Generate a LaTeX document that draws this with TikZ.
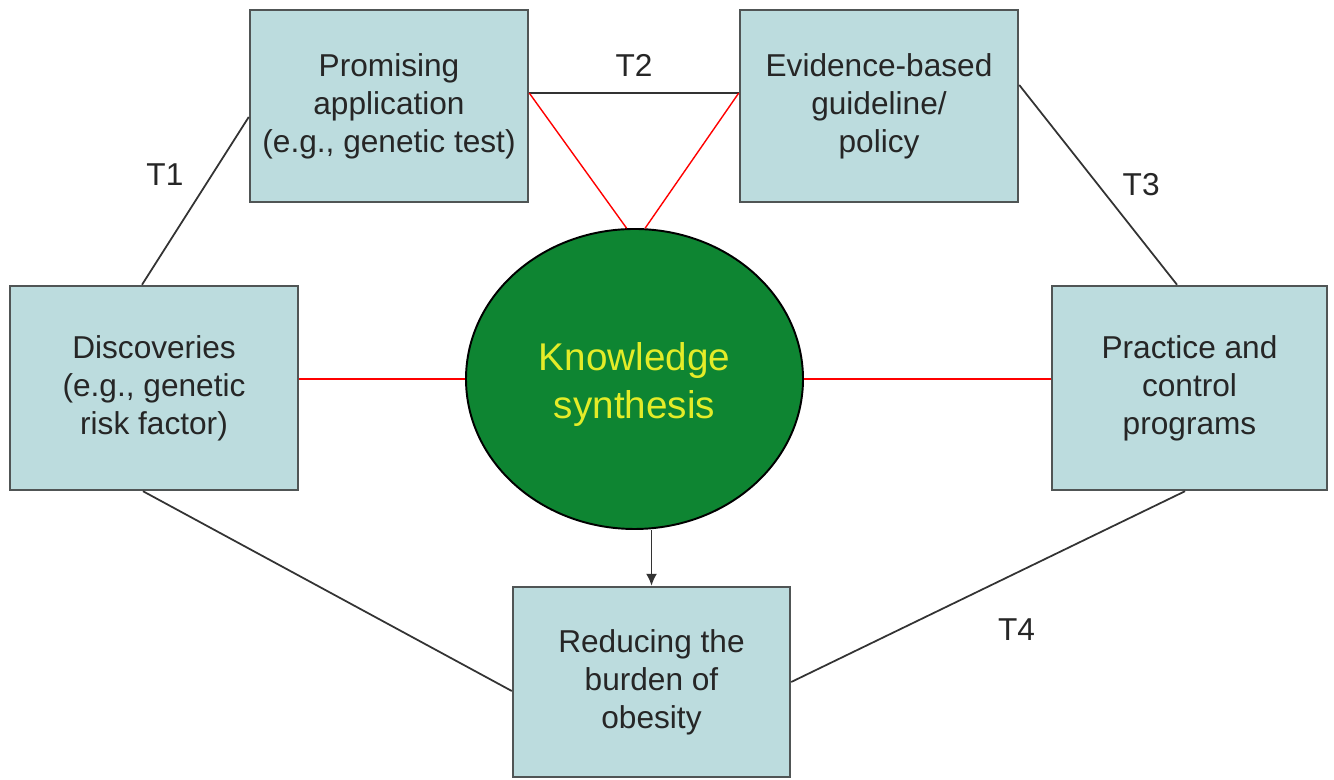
\documentclass[tikz,border=0pt]{standalone}
\usepackage{fontspec}
\setmainfont{Liberation Sans}
\usetikzlibrary{arrows.meta,shapes.geometric}
\definecolor{boxfill}{RGB}{188,220,222}
\definecolor{boxline}{RGB}{80,85,85}
\definecolor{kgreen}{RGB}{14,133,50}
\definecolor{kyellow}{RGB}{228,236,40}

\begin{document}
\begin{tikzpicture}[
	stage/.style={draw=boxline,line width=1.4pt,fill=boxfill,align=center,text=black!85,
		font=\fontsize{18}{21.6}\selectfont,inner sep=0pt},
	link/.style={line width=1pt,black!80},
	redlink/.style={line width=0.8pt,red},
	tag/.style={font=\fontsize{18}{21.6}\selectfont,text=black!85}]

\useasboundingbox (0,0) rectangle (26.68,15.6);

\node (prom) at (7.78,13.48) [stage,minimum width=5.56cm,minimum height=3.84cm] {Promising\\application\\(e.g., genetic test)};
\node (evid) at (17.58,13.48) [stage,minimum width=5.56cm,minimum height=3.84cm] {Evidence-based\\guideline/\\policy};
\node (disc) at (3.08,7.84) [stage,minimum width=5.76cm,minimum height=4.08cm] {Discoveries\\(e.g., genetic\\risk factor)};
\node (prac) at (23.79,7.84) [stage,minimum width=5.5cm,minimum height=4.08cm] {Practice and\\control\\programs};
\node (burden) at (13.03,1.96) [stage,minimum width=5.54cm,minimum height=3.8cm] {Reducing the\\burden of\\obesity};

\node (ks) at (12.69,8.02) [ellipse,draw=black,line width=1.1pt,fill=kgreen,text=kyellow,align=center,
	minimum width=6.74cm,minimum height=6cm,text height=1.74cm,font=\fontsize{22}{27.5}\selectfont] {Knowledge\\synthesis};

\draw[link] ([xshift=-0.24cm]disc.north) -- ([yshift=-0.22cm]prom.west) node[pos=0.655,xshift=-0.94cm,tag] {T1};
\draw[link] ([yshift=0.26cm]prom.east) -- ([yshift=0.26cm]evid.west) node[midway,yshift=0.56cm,tag] {T2};
\draw[link] ([yshift=0.42cm]evid.east) -- ([xshift=-0.25cm]prac.north) node[midway,xshift=0.86cm,tag] {T3};
\draw[link] ([xshift=-0.09cm]prac.south) -- (burden.east) node[pos=0.428,yshift=-1.14cm,tag] {T4};
\draw[link] ([xshift=-0.22cm]disc.south) -- ([yshift=-0.18cm]burden.west);

\draw[redlink] ([yshift=0.26cm]prom.east) -- (ks.93.4);
\draw[redlink] ([yshift=0.26cm]evid.west) -- (ks.86.6);
\draw[redlink] (disc.east |- ks.west) -- (ks.west);
\draw[redlink] (ks.east) -- (prac.west |- ks.east);

\draw[link,-{Latex[length=2.4mm,width=2.2mm]}] (ks.south -| burden.north) -- (burden.north);

\end{tikzpicture}
\end{document}
